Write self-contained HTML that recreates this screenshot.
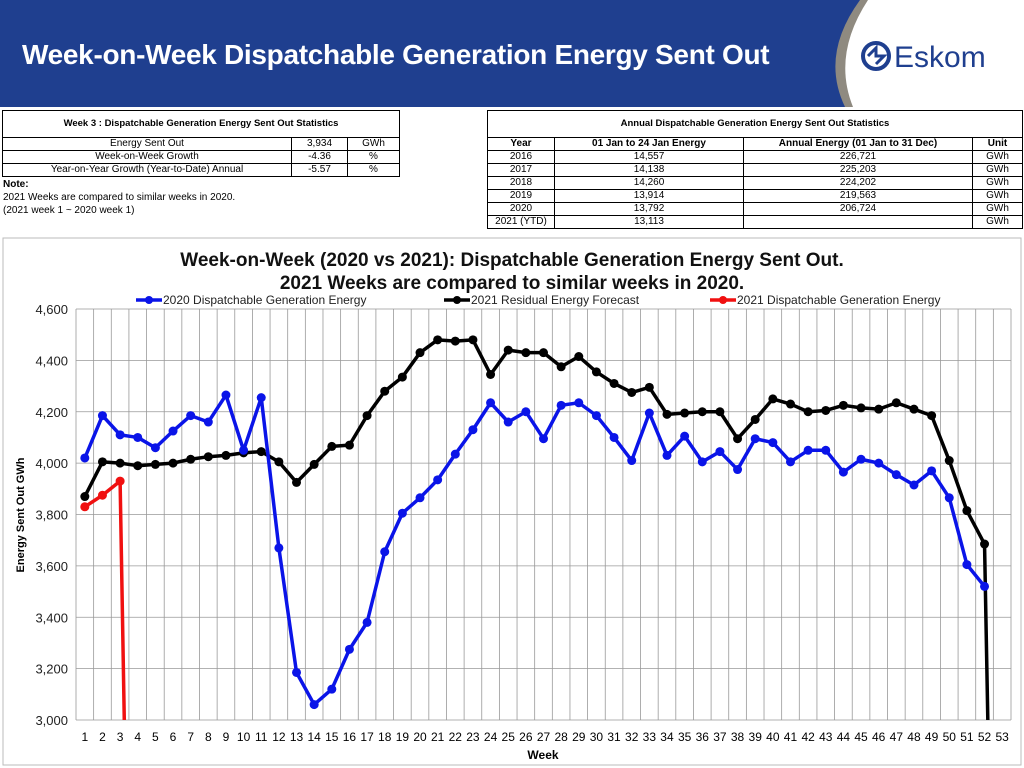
<!DOCTYPE html>
<html><head><meta charset="utf-8"><style>
html,body{margin:0;width:1024px;height:768px;overflow:hidden}
body{background:#fff;font-family:"Liberation Sans",Arial,sans-serif;position:relative}
.hdr{position:absolute;left:0;top:0;width:1024px;height:107px;background:#1f3f8f;overflow:hidden}
.hdr h1{position:absolute;left:22px;top:39px;margin:0;color:#fff;font-size:28px;font-weight:bold;letter-spacing:-0.3px}
table{position:absolute;border-collapse:collapse;font-size:10px;color:#000}
td{border:1px solid #000;text-align:center;padding:0;height:12px;line-height:12px}
.note{position:absolute;left:3px;top:178px;font-size:10px;line-height:13px}
</style></head><body>
<div class="hdr">
<h1>Week-on-Week Dispatchable Generation Energy Sent Out</h1>
<svg width="1024" height="107" style="position:absolute;left:0;top:0;display:block">
<path d="M860,0 Q820,55 845,107 L1024,107 L1024,0 Z" fill="#8f8a80"/>
<path d="M868,0 Q832,55 853,107 L1024,107 L1024,0 Z" fill="#fff"/>
<circle cx="876" cy="56" r="13" fill="none" stroke="#1f3f8f" stroke-width="4"/>
<path d="M868,56 L876,48 L876,56 L884,56 L876,64" fill="none" stroke="#1f3f8f" stroke-width="3"/>
<text x="894" y="67" font-size="30" fill="#1f3f8f" font-family="Liberation Sans">Eskom</text>
</svg>
</div>
<table style="left:2px;top:110px;width:398px">
<tr><td colspan="3" style="height:26px;font-weight:bold;font-size:9.5px">Week 3 : Dispatchable Generation Energy Sent Out Statistics</td></tr>
<tr><td style="width:288px">Energy Sent Out</td><td style="width:55px">3,934</td><td>GWh</td></tr>
<tr><td>Week-on-Week Growth</td><td>-4.36</td><td>%</td></tr>
<tr><td>Year-on-Year Growth (Year-to-Date) Annual</td><td>-5.57</td><td>%</td></tr>
</table>
<div class="note"><b>Note:</b><br>2021 Weeks are compared to similar weeks in 2020.<br>(2021 week 1 ~ 2020 week 1)</div>
<table style="left:487px;top:110px;width:536px">
<tr><td colspan="4" style="height:26px;font-weight:bold;font-size:9.5px">Annual Dispatchable Generation Energy Sent Out Statistics</td></tr>
<tr style="font-weight:bold"><td style="width:66px">Year</td><td style="width:188px">01 Jan to 24 Jan Energy</td><td style="width:228px">Annual Energy (01 Jan to 31 Dec)</td><td>Unit</td></tr>
<tr><td>2016</td><td>14,557</td><td>226,721</td><td>GWh</td></tr>
<tr><td>2017</td><td>14,138</td><td>225,203</td><td>GWh</td></tr>
<tr><td>2018</td><td>14,260</td><td>224,202</td><td>GWh</td></tr>
<tr><td>2019</td><td>13,914</td><td>219,563</td><td>GWh</td></tr>
<tr><td>2020</td><td>13,792</td><td>206,724</td><td>GWh</td></tr>
<tr><td>2021 (YTD)</td><td>13,113</td><td></td><td>GWh</td></tr>
</table>
<svg id="chart" width="1024" height="768" style="position:absolute;left:0;top:0;display:block"></svg>
<script>
const weeks=[];for(let i=1;i<=53;i++)weeks.push(i);
const yTicks=[3000,3200,3400,3600,3800,4000,4200,4400,4600];
const s2020=[4020,4185,4110,4100,4060,4125,4185,4160,4265,4050,4255,3670,3185,3060,3120,3275,3380,3655,3805,3865,3935,4035,4130,4235,4160,4200,4095,4225,4235,4185,4100,4010,4195,4030,4105,4005,4045,3975,4095,4080,4005,4050,4050,3965,4015,4000,3955,3915,3970,3865,3605,3520];
const sResidual=[3870,4005,4000,3990,3995,4000,4015,4025,4030,4040,4045,4005,3925,3995,4065,4070,4185,4280,4335,4430,4480,4475,4480,4345,4440,4430,4430,4375,4415,4355,4310,4275,4295,4190,4195,4200,4200,4095,4170,4250,4230,4200,4205,4225,4215,4210,4235,4210,4185,4010,3815,3685,0];
const s2021=[3830,3875,3930,0];
const NS='http://www.w3.org/2000/svg',svg=document.getElementById('chart');
const L=76,R=1011,T=309,B=720,step=(R-L)/weeks.length;
const x=i=>L+step*(i+0.5), y=v=>B-(v-3000)/1600*(B-T);
function el(t,a,p){const e=document.createElementNS(NS,t);for(const k in a)e.setAttribute(k,a[k]);(p||svg).appendChild(e);return e;}
let e=el('rect',{x:3,y:238,width:1018,height:527,fill:'none',stroke:'#bbb'});


const defs=el('defs',{});const cp=el('clipPath',{id:'pc'},defs);el('rect',{x:L,y:T-10,width:R-L,height:B-T+10},cp);
for(let k=0;k<=weeks.length;k++){e=el('line',{x1:L+step*k,x2:L+step*k,y1:T,y2:B,stroke:'#999','stroke-width':0.8});

}
yTicks.forEach(v=>{e=el('line',{x1:L,x2:R,y1:y(v),y2:y(v),stroke:'#999','stroke-width':0.8});


const t=el('text',{x:L-8,y:y(v)+5,'text-anchor':'end','font-size':13,fill:'#222'});t.textContent=v.toLocaleString('en-US');

});
weeks.forEach((w,i)=>{const t=el('text',{x:x(i),y:741,'text-anchor':'middle','font-size':12,fill:'#000'});t.textContent=w;

});
function series(d,c,name){const g=el('g',{'clip-path':'url(#pc)'});


el('polyline',{points:d.map((v,i)=>x(i)+','+y(v)).join(' '),fill:'none',stroke:c,'stroke-width':3.5,'stroke-linejoin':'round'},g);
d.forEach((v,i)=>{if(v>=3000){const p=el('circle',{cx:x(i),cy:y(v),r:4.5,fill:c},g);

}});}
series(sResidual,'#000','residual-forecast-line');
series(s2020,'#0a14e8','dispatchable-2020-line');
series(s2021,'#f01010','dispatchable-2021-line');
const tt=[['Week-on-Week (2020 vs 2021): Dispatchable Generation Energy Sent Out.',266],['2021 Weeks are compared to similar weeks in 2020.',289]];
tt.forEach(([s,yy],i)=>{const t=el('text',{x:512,y:yy,'text-anchor':'middle','font-size':19,'font-weight':'bold',fill:'#111'});t.textContent=s;

});
[['2020 Dispatchable Generation Energy','#0a14e8',136],['2021 Residual Energy Forecast','#000',444],['2021 Dispatchable Generation Energy','#f01010',710]].forEach(([s,c,lx])=>{
const g=el('g',{});


el('line',{x1:lx,x2:lx+26,y1:300,y2:300,stroke:c,'stroke-width':3.5},g);el('circle',{cx:lx+13,cy:300,r:4,fill:c},g);
const t=el('text',{x:lx+27,y:304,'font-size':12,fill:'#222'},g);t.textContent=s;});
let t=el('text',{x:543,y:759,'text-anchor':'middle','font-size':12,'font-weight':'bold'});t.textContent='Week';


t=el('text',{x:24,y:515,'text-anchor':'middle','font-size':11,'font-weight':'bold',transform:'rotate(-90 24 515)'});t.textContent='Energy Sent Out GWh';


</script>
</body></html>
